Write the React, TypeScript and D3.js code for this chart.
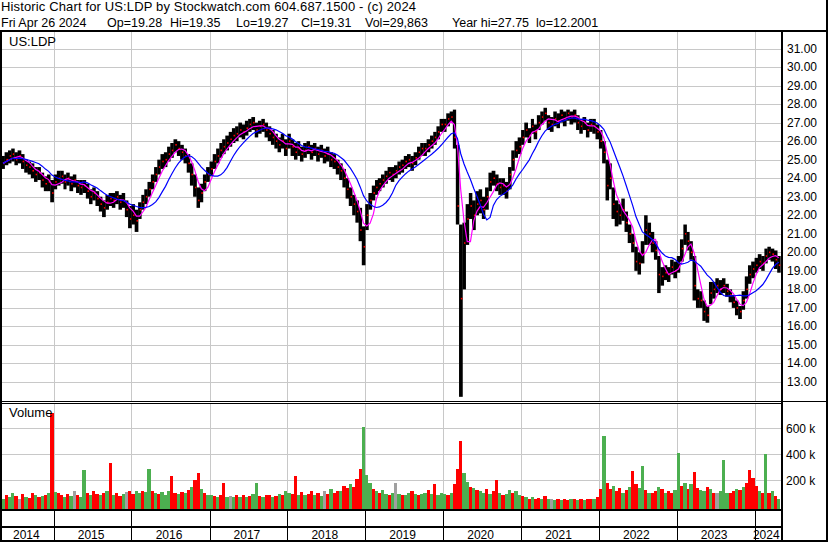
import React from 'react';
import * as d3 from 'd3';

// ---------- DATA (half-month periods starting 2014-05-01) ----------
const firstPeriod = { year: 2014, month: 4 };
const periodCount = 240;

const closes = [
  // 2014 (May-Dec)
  24.8, 25.0, 25.2, 25.3, 25.0, 25.2, 24.9, 24.7, 24.6, 24.4, 24.2, 24.3, 23.9, 23.7, 23.8, 23.2,
  // 2015
  23.8, 24.0, 24.1, 23.8, 24.0, 23.7, 23.9, 23.6, 23.5, 23.6, 23.3, 23.0, 23.2, 22.9, 22.6, 22.4, 22.7, 22.9, 22.8, 23.0, 22.7, 22.8, 22.3, 21.8,
  // 2016
  22.0, 21.7, 22.3, 22.7, 23.0, 23.4, 23.8, 24.2, 24.6, 24.9, 25.0, 25.3, 25.5, 25.8, 25.6, 25.4, 25.2, 24.8, 24.2, 23.5, 22.8, 23.2, 23.8, 24.2,
  // 2017
  24.5, 24.9, 25.2, 25.5, 25.7, 25.9, 26.1, 26.3, 26.4, 26.6, 26.5, 26.7, 26.9, 27.0, 26.6, 26.8, 26.9, 26.6, 26.4, 26.2, 26.0, 25.8, 26.0, 25.6,
  // 2018
  26.0, 25.7, 25.4, 25.6, 25.3, 25.5, 25.7, 25.4, 25.6, 25.3, 25.5, 25.2, 25.3, 25.0, 24.9, 24.6, 24.4, 24.0, 23.4, 23.0, 22.6, 22.2, 21.2, 20.3,
  // 2019
  22.0, 22.8, 23.2, 23.5, 23.7, 23.9, 24.1, 24.3, 24.2, 24.4, 24.6, 24.7, 24.9, 25.0, 24.8, 25.1, 25.4, 25.6, 25.6, 25.8, 26.0, 26.2, 26.5, 26.9,
  // 2020
  26.9, 27.2, 27.3, 26.2, 22.5, 17.5, 20.5, 21.8, 22.5, 22.0, 22.6, 22.8, 22.3, 23.0, 23.8, 24.0, 23.7, 23.5, 23.6, 23.3, 24.2, 25.0, 25.5, 25.7,
  // 2021
  26.2, 26.6, 26.3, 26.8, 26.5, 27.0, 27.3, 27.5, 27.0, 26.9, 27.2, 27.1, 27.4, 27.2, 27.5, 27.3, 27.4, 27.0, 26.8, 27.0, 26.6, 26.9, 26.8, 26.5,
  // 2022
  26.0, 25.4, 23.6, 24.0, 22.6, 22.2, 22.0, 22.3, 21.6, 21.0, 20.5, 19.5, 19.4, 19.9, 21.2, 21.0, 20.5, 20.1, 18.8, 18.7, 18.9, 18.8, 19.2, 19.0,
  // 2023
  19.4, 20.2, 21.0, 20.6, 20.0, 18.2, 17.5, 17.4, 16.8, 16.6, 17.8, 18.0, 18.2, 18.0, 18.2, 17.9, 17.7, 17.3, 17.0, 16.8, 17.4, 18.0, 18.8, 19.1,
  // 2024 (Jan-Apr)
  19.3, 19.5, 19.4, 19.8, 20.0, 19.9, 19.6, 19.3,
];

const highs = [
  25.2, 25.4, 25.5, 25.6, 25.4, 25.5, 25.3, 25.0, 24.9, 24.8, 24.6, 24.6, 24.3, 24.1, 24.2, 23.9,
  24.2, 24.4, 24.4, 24.2, 24.3, 24.1, 24.2, 23.9, 23.9, 23.9, 23.7, 23.4, 23.5, 23.3, 23.0, 22.8, 23.1, 23.2, 23.2, 23.3, 23.1, 23.2, 22.8, 22.5,
  22.6, 22.3, 22.7, 23.1, 23.4, 23.8, 24.2, 24.6, 25.0, 25.3, 25.4, 25.7, 25.9, 26.1, 26.0, 25.8, 25.6, 25.3, 24.8, 24.2, 23.5, 23.7, 24.2, 24.6,
  24.9, 25.3, 25.6, 25.9, 26.1, 26.3, 26.5, 26.7, 26.8, 27.0, 26.9, 27.1, 27.2, 27.3, 27.0, 27.1, 27.2, 27.0, 26.8, 26.6, 26.4, 26.2, 26.4, 26.1,
  26.4, 26.1, 25.9, 26.0, 25.7, 25.9, 26.0, 25.8, 25.9, 25.7, 25.8, 25.6, 25.7, 25.4, 25.3, 25.0, 24.8, 24.5, 24.0, 23.5, 23.1, 22.8, 22.4, 21.4,
  22.6, 23.2, 23.6, 23.9, 24.0, 24.2, 24.4, 24.6, 24.6, 24.7, 24.9, 25.0, 25.2, 25.3, 25.2, 25.4, 25.7, 25.9, 25.9, 26.1, 26.3, 26.5, 26.8, 27.2,
  27.2, 27.5, 27.6, 27.7, 25.8, 21.5, 21.6, 22.6, 23.2, 22.8, 23.3, 23.4, 23.0, 23.5, 24.3, 24.4, 24.2, 24.0, 24.0, 23.8, 24.6, 25.5, 26.0, 26.2,
  26.6, 27.0, 26.7, 27.2, 26.9, 27.4, 27.6, 27.8, 27.4, 27.3, 27.6, 27.5, 27.7, 27.6, 27.7, 27.6, 27.7, 27.4, 27.2, 27.3, 27.0, 27.2, 27.2, 26.9,
  26.6, 26.0, 25.0, 24.8, 23.5, 22.8, 22.6, 22.9, 22.2, 21.5, 21.0, 20.3, 20.0, 20.6, 22.0, 21.6, 21.1, 20.6, 19.8, 19.2, 19.3, 19.2, 19.6, 19.5,
  19.8, 20.7, 21.5, 21.1, 20.6, 19.8, 18.0, 17.9, 17.4, 17.1, 18.4, 18.4, 18.6, 18.5, 18.6, 18.3, 18.0, 17.7, 17.4, 17.1, 17.9, 18.7, 19.3, 19.5,
  19.7, 19.9, 19.8, 20.2, 20.3, 20.2, 20.1, 19.8,
];

const lows = [
  24.5, 24.7, 24.8, 24.9, 24.7, 24.8, 24.5, 24.3, 24.2, 24.0, 23.8, 23.9, 23.5, 23.3, 23.3, 22.7,
  23.4, 23.6, 23.7, 23.4, 23.6, 23.3, 23.5, 23.2, 23.1, 23.2, 22.9, 22.6, 22.8, 22.5, 22.2, 21.9, 22.3, 22.5, 22.4, 22.6, 22.3, 22.4, 21.9, 21.3,
  21.5, 21.1, 21.8, 22.3, 22.6, 23.0, 23.4, 23.8, 24.2, 24.5, 24.6, 24.9, 25.1, 25.4, 25.2, 25.0, 24.8, 24.3, 23.6, 23.0, 22.4, 22.7, 23.3, 23.8,
  24.1, 24.5, 24.8, 25.1, 25.3, 25.5, 25.7, 25.9, 26.0, 26.2, 26.1, 26.3, 26.5, 26.6, 26.2, 26.4, 26.5, 26.2, 26.0, 25.8, 25.6, 25.4, 25.6, 25.2,
  25.6, 25.2, 25.0, 25.2, 24.9, 25.1, 25.3, 25.0, 25.2, 24.9, 25.1, 24.8, 24.9, 24.6, 24.5, 24.2, 23.9, 23.5, 22.9, 22.5, 22.0, 21.6, 20.6, 19.3,
  21.2, 22.3, 22.8, 23.1, 23.3, 23.5, 23.7, 23.9, 23.8, 24.0, 24.2, 24.3, 24.5, 24.6, 24.4, 24.7, 25.0, 25.2, 25.2, 25.4, 25.6, 25.8, 26.1, 26.5,
  26.5, 26.8, 27.0, 25.6, 21.5, 12.2, 18.0, 20.4, 21.8, 21.2, 22.0, 22.1, 21.8, 22.3, 23.3, 23.6, 23.3, 23.1, 23.1, 22.9, 23.4, 24.4, 25.1, 25.3,
  25.8, 26.2, 25.9, 26.4, 26.1, 26.6, 26.9, 27.1, 26.6, 26.5, 26.8, 26.7, 27.0, 26.8, 27.1, 26.9, 27.0, 26.6, 26.4, 26.6, 26.2, 26.5, 26.4, 26.1,
  25.6, 24.8, 22.8, 23.4, 21.8, 21.4, 21.5, 21.7, 21.1, 20.5, 20.0, 19.0, 18.8, 19.4, 20.4, 20.4, 20.0, 19.6, 17.8, 18.2, 18.5, 18.4, 18.8, 18.6,
  18.9, 19.5, 20.4, 20.1, 19.6, 17.4, 17.0, 17.0, 16.3, 16.2, 17.2, 17.5, 17.8, 17.7, 17.8, 17.6, 17.3, 17.0, 16.6, 16.4, 16.9, 17.5, 18.3, 18.6,
  18.9, 19.1, 19.0, 19.4, 19.6, 19.5, 19.1, 18.9,
];

// volume in thousands
const volumes = [
  60, 90, 70, 100, 80, 60, 95, 75, 65, 100, 85, 70, 80, 90, 105, 720,
  110, 100, 85, 70, 95, 80, 115, 90, 75, 280, 100, 85, 120, 95, 90, 105, 115, 335, 90, 100, 80, 95, 110, 120,
  95, 115, 100, 120, 110, 290, 115, 100, 95, 110, 90, 115, 235, 100, 95, 110, 100, 125, 150, 200, 260, 130, 100, 90,
  90, 80, 70, 85, 180, 75, 80, 70, 90, 75, 85, 70, 80, 95, 180, 80, 75, 90, 85, 70, 80, 95, 90, 115,
  105, 95, 235, 90, 110, 85, 95, 120, 90, 105, 80, 115, 95, 130, 105, 120, 115, 160, 140, 170, 150, 210, 290, 610,
  240, 180, 130, 115, 105, 125, 95, 90, 105, 180, 95, 85, 90, 105, 115, 95, 85, 95, 105, 125, 95, 170, 90, 105,
  95, 90, 105, 170, 290, 500, 260, 190, 150, 140, 125, 115, 105, 135, 95, 115, 200, 105, 90, 95, 125, 105, 115, 90,
  80, 70, 60, 75, 55, 65, 60, 80, 60, 55, 50, 60, 45, 55, 50, 55, 60, 45, 55, 50, 55, 60, 55, 70,
  130, 540, 180, 130, 160, 115, 140, 105, 125, 150, 275, 170, 140, 310, 125, 105, 100, 115, 150, 130, 105, 115, 100, 125,
  410, 160, 180, 135, 170, 265, 140, 125, 115, 150, 135, 105, 100, 115, 355, 105, 100, 115, 135, 125, 150, 180, 280, 220,
  160, 115, 105, 400, 100, 115, 80, 55,
];

// volume bar colour per period: g = up, r = down, n = unchanged
const volumeDirection = [
  'grggrnrgrrgrgrgr',
  'grrgrgnrggrgrrgrgrgrrgnr',
  'rggrggrgrgggrrgrgrgrrgrg',
  'grgrrgngrgrgrggrgrrgrgrg',
  'grrgrgrrgrgnrgrrgrrgrrrg',
  'ggrgrggrgngrggrgrggrgrgg',
  'grgrrrggrgrggrgrrgrggrgg',
  'rgrgrrgrgngrgrrgrgrgrrgr',
  'rgrrgrrgrgrrggrgrrgrgrrg',
  'grgrgrrggrgrngggrrgrgrrr',
  'rgrgrgrg',
].join('');

const priceTicks = d3.range(13, 32);
const volumeTicks = [200, 400, 600];
const yearLabels = ['2014', '2015', '2016', '2017', '2018', '2019', '2020', '2021', '2022', '2023', '2024'];

const headerLine1 = 'Historic Chart for US:LDP by Stockwatch.com 604.687.1500 - (c) 2024';
const headerLine2 = ['Fri Apr 26 2024', 'Op=19.28', 'Hi=19.35', 'Lo=19.27', 'Cl=19.31', 'Vol=29,863', 'Year hi=27.75', 'lo=12.2001'];
const headerLine2X = [1, 107, 170, 236, 301, 365, 452, 536];

// ---------- LAYOUT ----------
const W = 830;
const H = 543;
const plotLeft = 2;
const plotRight = 781;
const priceTop = 31.5;
const priceBottom = 401;
const volTop = 403.5;
const volBottom = 509;
const FONT = "'Liberation Sans', Arial, Helvetica, sans-serif";
const GRID = '#c8c8c8';
const GREEN = '#4caf50';
const COLORS: Record<string, string> = { g: GREEN, r: '#ff0000', n: '#a0a0a0' };

function movingAverage(vals: number[], n: number) {
  return vals.map((_, i) => d3.mean(vals.slice(Math.max(0, i - n + 1), i + 1)) as number);
}

export default function App() {
  const periodStart = (i: number) =>
    new Date(firstPeriod.year, firstPeriod.month + Math.floor(i / 2), i % 2 ? 16 : 1);
  const starts = d3.range(periodCount + 1).map(periodStart);

  const x = d3
    .scaleTime()
    .domain([new Date(2014, 4, 1), new Date(2024, 4, 1)])
    .range([1.4, 780.4]);
  const y = d3.scaleLinear().domain([13, 31]).range([382, 48.5]);
  const yv = d3.scaleLinear().domain([0, 600]).range([506.3, 428.3]);

  const barX0 = (i: number) => x(starts[i]);
  const barX1 = (i: number) => x(starts[i + 1]);
  const mid = (i: number) => (barX0(i) + barX1(i)) / 2;

  const maShort = movingAverage(closes, 4);
  const maLong = movingAverage(closes, 10);

  const line = d3
    .line<number>()
    .x((_, i) => mid(i))
    .y((d) => y(d));

  const yearStarts = yearLabels.map((yl) => x(new Date(+yl, 0, 1)));
  const yearBounds = yearLabels.map((_, k) => [
    k === 0 ? plotLeft : yearStarts[k],
    k === yearLabels.length - 1 ? plotRight : yearStarts[k + 1],
  ]);

  return (
    <svg
      width={W}
      height={H}
      viewBox={`0 0 ${W} ${H}`}
      style={{ position: 'absolute', left: 0, top: 0, display: 'block', background: '#fff' }}
      fontFamily={FONT}
    >
      <defs>
        <clipPath id="priceClip">
          <rect x={plotLeft} y={priceTop} width={plotRight - plotLeft} height={priceBottom - priceTop} />
        </clipPath>
        <clipPath id="volClip">
          <rect x={plotLeft} y={volTop} width={plotRight - plotLeft} height={volBottom - volTop} />
        </clipPath>
      </defs>
      <rect x={0} y={0} width={W} height={H} fill="#fff" />

      {/* header */}
      <text x={1} y={11} fontSize={13} fill="#000" textLength={415} lengthAdjust="spacing">
        {headerLine1}
      </text>
      {headerLine2.map((s, k) => (
        <text key={k} x={headerLine2X[k]} y={26.5} fontSize={12.5} fill="#000">
          {s}
        </text>
      ))}

      {/* grids */}
      <g stroke={GRID} strokeWidth={1} shapeRendering="crispEdges">
        {priceTicks.map((p) => (
          <line key={p} x1={plotLeft} x2={plotRight} y1={Math.round(y(p)) + 0.5} y2={Math.round(y(p)) + 0.5} />
        ))}
        {yearStarts.slice(1).map((xs, k) => (
          <line key={'v' + k} x1={Math.round(xs) + 0.5} x2={Math.round(xs) + 0.5} y1={priceTop} y2={priceBottom} />
        ))}
        {volumeTicks.map((v) => (
          <line key={'g' + v} x1={plotLeft} x2={plotRight} y1={Math.round(yv(v)) + 0.5} y2={Math.round(yv(v)) + 0.5} />
        ))}
        {yearStarts.slice(1).map((xs, k) => (
          <line key={'vv' + k} x1={Math.round(xs) + 0.5} x2={Math.round(xs) + 0.5} y1={volTop} y2={volBottom} />
        ))}
      </g>

      {/* price bars */}
      <g clipPath="url(#priceClip)">
        {closes.map((c, i) => {
          const x0 = barX0(i);
          const w = barX1(i) - x0;
          return (
            <g key={i}>
              <rect x={x0} width={w + 0.3} y={y(highs[i])} height={y(lows[i]) - y(highs[i])} fill="#000" />
              <rect x={x0 + w - 1.6} width={1.6} y={y(c) - 0.8} height={1.6} fill="#ff0000" />
            </g>
          );
        })}
        <path d={line(maShort) || ''} fill="none" stroke="#ff00ff" strokeWidth={1.2} />
        <path d={line(maLong) || ''} fill="none" stroke="#0000ff" strokeWidth={1.2} />
      </g>

      {/* volume bars */}
      <g clipPath="url(#volClip)" shapeRendering="crispEdges">
        {volumes.map((v, i) => {
          const x0 = barX0(i);
          return (
            <rect
              key={i}
              x={x0}
              width={barX1(i) - x0}
              y={yv(v)}
              height={volBottom - yv(v)}
              fill={COLORS[volumeDirection[i]] || GREEN}
            />
          );
        })}
      </g>

      {/* panel labels */}
      <text x={9} y={46} fontSize={13} fill="#000">US:LDP</text>
      <text x={9} y={417} fontSize={13} fill="#000">Volume</text>

      {/* right axis labels */}
      {priceTicks.map((p) => (
        <text key={p} x={787} y={y(p) + 4} fontSize={12} fill="#000">
          {p.toFixed(2)}
        </text>
      ))}
      {volumeTicks.map((v) => (
        <text key={v} x={786} y={yv(v) + 4.5} fontSize={12} fill="#000">
          {v} k
        </text>
      ))}

      {/* frame lines */}
      <g fill="#000" shapeRendering="crispEdges">
        <rect x={0} y={29.5} width={828} height={2} />
        <rect x={0} y={30} width={2} height={512} />
        <rect x={781} y={30} width={2} height={512} />
        <rect x={826} y={0} width={2} height={542} />
        <rect x={0} y={401} width={828} height={1} />
        <rect x={0} y={403} width={783} height={1} />
        <rect x={0} y={509} width={783} height={2} />
        <rect x={0} y={526} width={783} height={2} />
        <rect x={0} y={540} width={828} height={2} />
        {yearStarts.slice(1).map((xs, k) => (
          <rect key={k} x={Math.round(xs)} y={511} width={1} height={29} />
        ))}
      </g>

      {/* year labels */}
      {yearLabels.map((yl, k) => (
        <text
          key={yl}
          x={(yearBounds[k][0] + yearBounds[k][1]) / 2 - 1.5}
          y={539}
          fontSize={12}
          fill="#000"
          textAnchor="middle"
        >
          {yl}
        </text>
      ))}
    </svg>
  );
}
